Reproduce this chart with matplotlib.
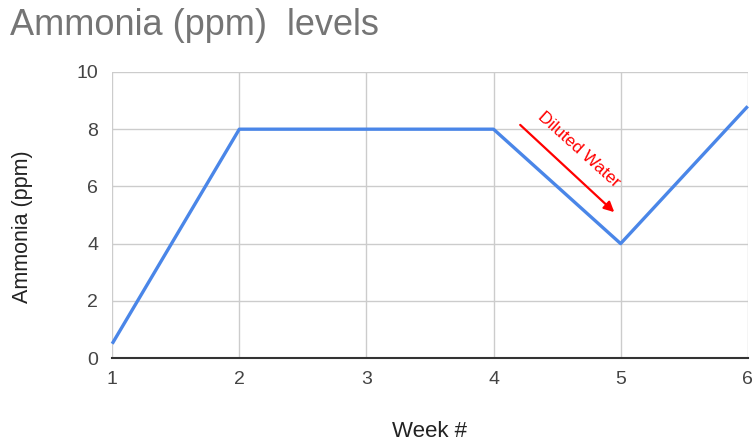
import matplotlib.pyplot as plt

weeks = [1, 2, 3, 4, 5, 6]
ammonia = [0.5, 8, 8, 8, 4, 8.8]
yticks = [0, 2, 4, 6, 8, 10]

plt.rcParams["font.family"] = ["Liberation Sans", "DejaVu Sans"]

fig = plt.figure(figsize=(7.53, 4.47), dpi=100)
ax = fig.add_axes([0.149, 0.199, 0.844, 0.640])

ax.plot(weeks, ammonia, color="#4a86e8", linewidth=2.4, solid_capstyle="butt",
        clip_on=False, zorder=3)

ax.set_xlim(1, 6)
ax.set_ylim(0, 10)
ax.set_xticks(weeks)
ax.set_yticks(yticks)
ax.grid(True, color="#cccccc", linewidth=1.0)
ax.set_axisbelow(True)
for side in ["top", "right", "left"]:
    ax.spines[side].set_visible(False)
ax.spines["bottom"].set_color("#333333")
ax.spines["bottom"].set_linewidth(1.5)
ax.spines["bottom"].set_zorder(4)
ax.tick_params(length=0, labelsize=14, labelcolor="#444444")
ax.tick_params(axis="x", pad=9)
ax.tick_params(axis="y", pad=10)

ax.set_xlabel("Week #", fontsize=16, color="#222222", labelpad=24)
ax.set_ylabel("Ammonia (ppm)", fontsize=15.5, color="#222222")
ax.yaxis.set_label_coords(-0.124, 0.458)

fig.text(0.013, 0.944, "Ammonia (ppm)  levels", fontsize=26, color="#757575",
         va="center", ha="left")

# annotation
ax.annotate("", xy=(4.95, 5.1), xytext=(4.21, 8.15),
            arrowprops=dict(arrowstyle="-|>", color="red", lw=1.6,
                            mutation_scale=15, shrinkA=0, shrinkB=0))
ax.text(4.67, 7.3, "Diluted Water", color="red", fontsize=12.5,
        rotation=-42, rotation_mode="anchor", ha="center", va="center")

fig.savefig("out.png", dpi=100)
